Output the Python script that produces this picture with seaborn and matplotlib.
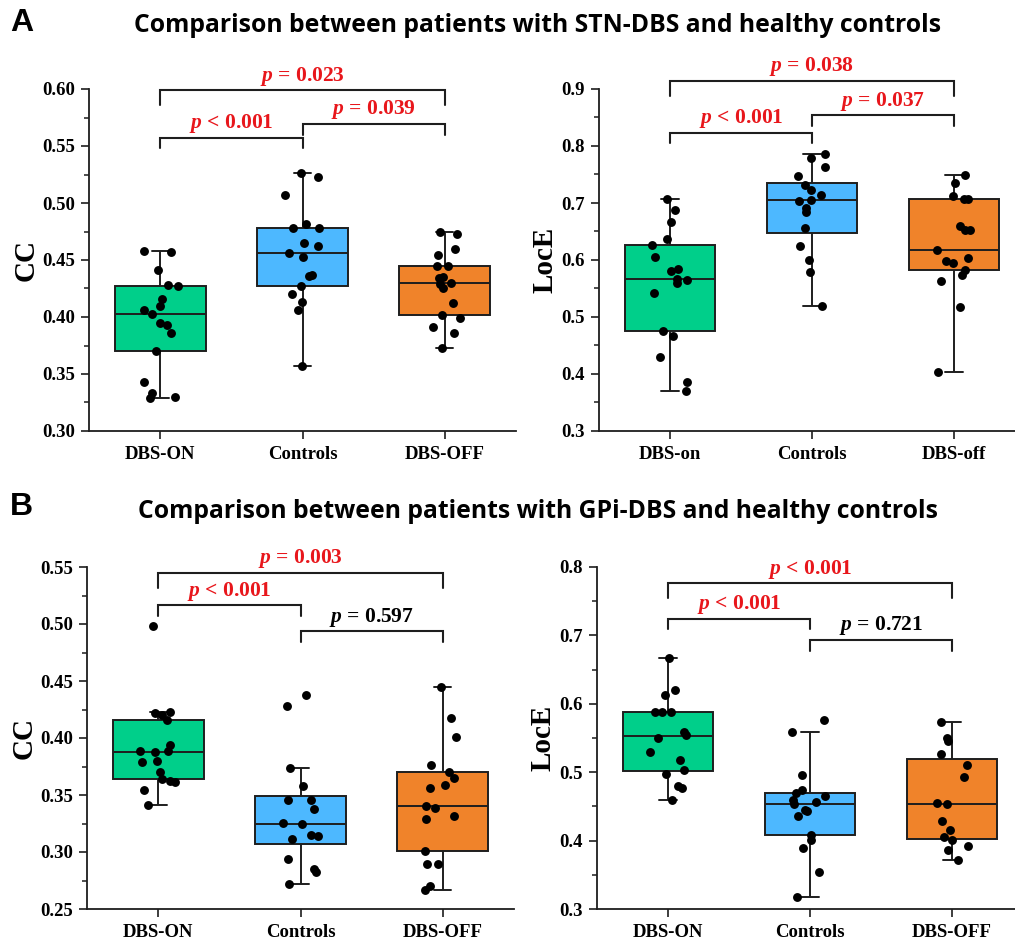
import numpy as np
import pandas as pd
import matplotlib
matplotlib.use("Agg")
import matplotlib.pyplot as plt
import seaborn as sns
from matplotlib.ticker import AutoMinorLocator, MultipleLocator, FormatStrFormatter

sns.set_theme(style="white")
plt.rcParams['font.family'] = ['Liberation Serif', 'DejaVu Serif']
plt.rcParams['font.weight'] = 'bold'
plt.rcParams['text.color'] = 'black'
plt.rcParams['axes.labelcolor'] = 'black'
plt.rcParams['xtick.color'] = 'black'
plt.rcParams['ytick.color'] = 'black'
plt.rcParams['mathtext.fontset'] = 'custom'
plt.rcParams['mathtext.it'] = 'Liberation Serif:italic:bold'
plt.rcParams['mathtext.rm'] = 'Liberation Serif:bold'

# ---------------- data ----------------
labels_A_cc = ["DBS-ON", "Controls", "DBS-OFF"]
labels_A_loce = ["DBS-on", "Controls", "DBS-off"]
labels_B = ["DBS-ON", "Controls", "DBS-OFF"]

A_cc_on = [0.458, 0.457, 0.441, 0.428, 0.427, 0.416, 0.410, 0.406, 0.403, 0.395,
           0.393, 0.386, 0.370, 0.343, 0.333, 0.330, 0.329]
A_cc_ctrl = [0.526, 0.523, 0.507, 0.482, 0.4785, 0.478, 0.465, 0.462, 0.456, 0.4525,
             0.437, 0.436, 0.427, 0.420, 0.413, 0.406, 0.357]
A_cc_off = [0.4744, 0.4727, 0.460, 0.4545, 0.4443, 0.4443, 0.4355, 0.434, 0.4297,
            0.429, 0.4253, 0.4127, 0.4018, 0.3995, 0.3916, 0.3858, 0.3726]

A_loce_on = [0.707, 0.688, 0.666, 0.637, 0.627, 0.605, 0.584, 0.580, 0.566, 0.565,
             0.559, 0.542, 0.476, 0.466, 0.429, 0.386, 0.370]
A_loce_ctrl = [0.786, 0.779, 0.764, 0.748, 0.731, 0.723, 0.714, 0.706, 0.703, 0.691,
               0.685, 0.656, 0.624, 0.600, 0.579, 0.520]
A_loce_off = [0.7496, 0.735, 0.712, 0.7074, 0.7074, 0.659, 0.653, 0.653, 0.618, 0.603,
              0.599, 0.594, 0.583, 0.574, 0.564, 0.517, 0.403]

B_cc_on = [0.4985, 0.4228, 0.4219, 0.4205, 0.416, 0.394, 0.389, 0.389, 0.388, 0.380,
           0.3787, 0.3699, 0.3643, 0.3626, 0.3611, 0.3547, 0.3415]
B_cc_ctrl = [0.4374, 0.4284, 0.3734, 0.3582, 0.3459, 0.3459, 0.3377, 0.3254, 0.3246,
             0.3152, 0.3143, 0.3114, 0.2939, 0.2854, 0.2825, 0.2719]
B_cc_off = [0.4447, 0.4175, 0.4009, 0.3763, 0.3699, 0.3649, 0.359, 0.3561, 0.340, 0.3386,
            0.3313, 0.3292, 0.3012, 0.2898, 0.2895, 0.2699, 0.2664]

B_loce_on = [0.6663, 0.6195, 0.6122, 0.5883, 0.5883, 0.5883, 0.559, 0.555, 0.550, 0.529,
             0.5176, 0.5029, 0.498, 0.4805, 0.4771, 0.46]
B_loce_ctrl = [0.5756, 0.559, 0.4956, 0.4746, 0.470, 0.4649, 0.46, 0.456, 0.454, 0.4454,
               0.4429, 0.4366, 0.4075, 0.4015, 0.3893, 0.3537, 0.3176]
B_loce_off = [0.5737, 0.5503, 0.5463, 0.5273, 0.5112, 0.4932, 0.4551, 0.4542, 0.4283,
              0.4161, 0.4049, 0.4005, 0.3917, 0.3859, 0.3722]

# p-value annotations: (group i, group j, label, significant)
A_cc_p = [(0, 2, "= 0.023", True), (0, 1, "< 0.001", True), (1, 2, "= 0.039", True)]
A_loce_p = [(0, 2, "= 0.038", True), (0, 1, "< 0.001", True), (1, 2, "= 0.037", True)]
B_cc_p = [(0, 2, "= 0.003", True), (0, 1, "< 0.001", True), (1, 2, "= 0.597", False)]
B_loce_p = [(0, 2, "< 0.001", True), (0, 1, "< 0.001", True), (1, 2, "= 0.721", False)]

box_colors = ["#00CF8A", "#4DB8FF", "#F0832A"]
red = "#E8161B"
dark = "#1E1E1E"

# ---------------- layout ----------------
W, H = 1015, 941
fig = plt.figure(figsize=(W / 100, H / 100), dpi=100)


def axrect(x0, x1, ytop, ybot):
    return [x0 / W, 1 - ybot / H, (x1 - x0) / W, (ybot - ytop) / H]


panels = [
    dict(rect=axrect(89, 516, 89, 431), groups=[A_cc_on, A_cc_ctrl, A_cc_off],
         labels=labels_A_cc, ylim=(0.30, 0.60), step=0.05, fmt="%.2f", ylabel="CC",
         pvals=A_cc_p, br=[(0.5988, 0.0125), (0.557, 0.0088), (0.5695, 0.0095)]),
    dict(rect=axrect(599, 1025, 89, 431), groups=[A_loce_on, A_loce_ctrl, A_loce_off],
         labels=labels_A_loce, ylim=(0.3, 0.9), step=0.1, fmt="%.1f", ylabel="LocE",
         pvals=A_loce_p, br=[(0.9146, 0.0266), (0.8228, 0.0178), (0.8538, 0.0193)]),
    dict(rect=axrect(87, 514, 567, 909), groups=[B_cc_on, B_cc_ctrl, B_cc_off],
         labels=labels_B, ylim=(0.25, 0.55), step=0.05, fmt="%.2f", ylabel="CC",
         pvals=B_cc_p, br=[(0.5447, 0.0131), (0.5164, 0.0091), (0.4936, 0.0094)]),
    dict(rect=axrect(597, 1023, 567, 909), groups=[B_loce_on, B_loce_ctrl, B_loce_off],
         labels=labels_B, ylim=(0.3, 0.8), step=0.1, fmt="%.1f", ylabel="LocE",
         pvals=B_loce_p, br=[(0.7761, 0.021), (0.7244, 0.0156), (0.6932, 0.0161)]),
]

np.random.seed(7)
for p in panels:
    ax = fig.add_axes(p["rect"])
    rows = []
    for lab, vals in zip(p["labels"], p["groups"]):
        rows += [(lab, v) for v in vals]
    df = pd.DataFrame(rows, columns=["group", "value"])
    sns.boxplot(data=df, x="group", y="value", hue="group", order=p["labels"],
                hue_order=p["labels"], palette=box_colors, saturation=1, width=0.64,
                showfliers=False, linecolor=dark, linewidth=1.4, legend=False,
                capwidths=0.12, ax=ax)
    sns.stripplot(data=df, x="group", y="value", order=p["labels"], color="black",
                  size=6.4, jitter=0.13, ax=ax, zorder=4)
    ax.set_xlim(-0.5, 2.5)
    ax.set_ylim(*p["ylim"])
    ax.yaxis.set_major_locator(MultipleLocator(p["step"]))
    ax.yaxis.set_minor_locator(AutoMinorLocator(2))
    ax.yaxis.set_major_formatter(FormatStrFormatter(p["fmt"]))
    ax.set_xlabel("")
    ax.set_ylabel(p["ylabel"], fontsize=21, fontweight="bold", labelpad=2,
                  color="black")
    sns.despine(ax=ax)
    for s in ["left", "bottom"]:
        ax.spines[s].set_color(dark)
        ax.spines[s].set_linewidth(1.3)
    ax.tick_params(axis="both", which="major", direction="out", length=6, width=1.2,
                   color=dark, labelsize=13.5, labelcolor="black", left=True, bottom=True,
                   pad=4)
    ax.tick_params(axis="y", which="minor", direction="out", length=3.5, width=1.1,
                   color=dark, left=True)
    ax.tick_params(axis="x", which="both", pad=5)
    for t in ax.get_xticklabels() + ax.get_yticklabels():
        t.set_fontweight("bold")

    for (i, j, txt, sig), (yl, leg) in zip(p["pvals"], p["br"]):
        ax.plot([i, i, j, j], [yl - leg, yl, yl, yl - leg], color=dark, lw=1.5,
                clip_on=False, solid_joinstyle="miter")
        ax.annotate(r"$p$ " + txt, xy=((i + j) / 2, yl), xytext=(0, 2),
                    textcoords="offset points", ha="center", va="bottom",
                    fontsize=15.5, fontweight="bold", color=red if sig else "black",
                    annotation_clip=False)

title_font = ["Open Sans", "DejaVu Sans"]
fig.text(10 / W, 1 - 23 / H, "A", ha="left", va="center", fontsize=23,
         fontweight="bold", family=["Liberation Sans", "DejaVu Sans"], color="black")
fig.text(538 / W, 1 - 25 / H, "Comparison between patients with STN-DBS and healthy controls",
         ha="center", va="center", fontsize=17.8, fontweight="bold", family=title_font,
         color="black")
fig.text(10 / W, 1 - 507 / H, "B", ha="left", va="center", fontsize=23,
         fontweight="bold", family=["Liberation Sans", "DejaVu Sans"], color="black")
fig.text(538 / W, 1 - 512 / H, "Comparison between patients with GPi-DBS and healthy controls",
         ha="center", va="center", fontsize=17.8, fontweight="bold", family=title_font,
         color="black")

fig.savefig("out.png", dpi=100)
